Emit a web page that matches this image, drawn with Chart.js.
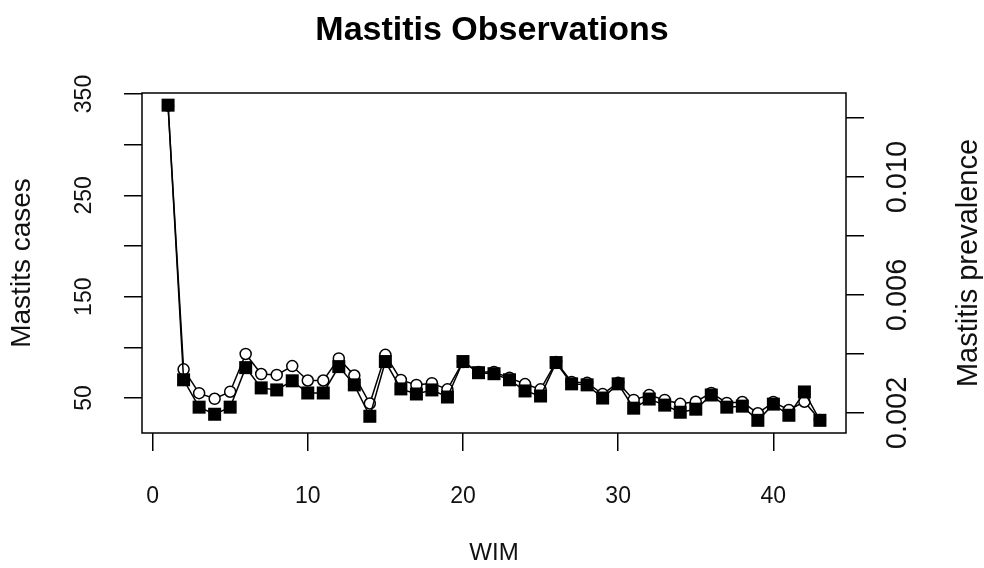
<!DOCTYPE html>
<html>
<head>
<meta charset="utf-8">
<script src="https://cdn.jsdelivr.net/npm/chart.js@4/dist/chart.umd.min.js"></script>
<style>
  body { margin: 0; background: #fff; }
  #wrap { width: 984px; height: 568px; }
</style>
</head>
<body>
<div id="wrap"><canvas id="chart"></canvas></div>
<script>
// week in milk
const wim = [1, 2, 3, 4, 5, 6, 7, 8, 9, 10, 11, 12, 13, 14, 15, 16, 17, 18, 19, 20, 21,
  22, 23, 24, 25, 26, 27, 28, 29, 30, 31, 32, 33, 34, 35, 36, 37, 38, 39, 40, 41, 42, 43];

// mastitis cases (left axis, filled squares)
const cases = [339, 68, 41, 34, 41, 80, 60, 58, 67, 55, 55, 81, 63, 32, 86, 59, 54, 58, 51, 86, 75,
  74, 68, 57, 52, 85, 64, 63, 50, 64, 40, 49, 43, 36, 39, 53, 41, 42, 28, 44, 33, 56, 28];

// mastitis prevalence (right axis, open circles)
const prevalence = [0.01242, 0.00348, 0.00267, 0.00248, 0.00272, 0.00400, 0.00332, 0.00329, 0.00359,
  0.00310, 0.00310, 0.00385, 0.00327, 0.00232, 0.00397, 0.00312, 0.00295, 0.00301, 0.00280, 0.00373,
  0.00339, 0.00339, 0.00319, 0.00298, 0.00280, 0.00373, 0.00305, 0.00302, 0.00264, 0.00302, 0.00244,
  0.00261, 0.00244, 0.00231, 0.00238, 0.00268, 0.00234, 0.00237, 0.00199, 0.00237, 0.00210, 0.00238, 0.00176];

// axis ticks (R draws every tick but skips some labels)
const xTicks = [0, 10, 20, 30, 40];
const leftTicks = [50, 100, 150, 200, 250, 300, 350];
const leftLabels = [50, 150, 250, 350];
const rightTicks = [0.002, 0.004, 0.006, 0.008, 0.010, 0.012];
const rightLabels = [0.002, 0.006, 0.010];

const FONT = '"Liberation Sans", Arial, sans-serif';

const tickGrid = { drawOnChartArea: false, drawTicks: true, tickLength: 18, color: '#000', lineWidth: 1.5 };

// box, tick labels and axis titles, R style (labels parallel to the axis)
const axisText = {
  id: 'axisText',
  afterDraw(chart) {
    const { ctx, chartArea: a, scales } = chart;
    ctx.save();
    ctx.strokeStyle = '#000';
    ctx.lineWidth = 1.5;
    ctx.strokeRect(a.left, a.top, a.right - a.left, a.bottom - a.top);

    ctx.fillStyle = '#111';
    ctx.textAlign = 'center';
    ctx.textBaseline = 'middle';
    ctx.font = '23px ' + FONT;
    xTicks.forEach(v => ctx.fillText(String(v), scales.x.getPixelForValue(v), 497));
    ctx.font = '24px ' + FONT;
    ctx.fillText('WIM', (a.left + a.right) / 2, 553);

    const rot = (text, x, y) => {
      ctx.save();
      ctx.translate(x, y);
      ctx.rotate(-Math.PI / 2);
      ctx.fillText(text, 0, 0);
      ctx.restore();
    };
    ctx.font = '23px ' + FONT;
    leftLabels.forEach(v => rot(String(v), 85, scales.y.getPixelForValue(v)));
    ctx.font = '29px ' + FONT;
    rightLabels.forEach(v => rot(v.toFixed(3), 898, scales.y1.getPixelForValue(v)));
    ctx.font = '28px ' + FONT;
    rot('Mastits cases', 22, (a.top + a.bottom) / 2);
    ctx.font = '29px ' + FONT;
    rot('Mastitis prevalence', 969, (a.top + a.bottom) / 2);
    ctx.restore();
  }
};

new Chart(document.getElementById('chart'), {
  type: 'line',
  data: {
    datasets: [
      {
        label: 'Mastitis cases',
        data: wim.map((w, i) => ({ x: w, y: cases[i] })),
        yAxisID: 'y',
        borderColor: '#000',
        borderWidth: 1.5,
        pointStyle: 'rect',
        pointRadius: 9.2,
        pointBackgroundColor: '#000',
        pointBorderColor: '#000',
        pointBorderWidth: 0,
        tension: 0
      },
      {
        label: 'Mastitis prevalence',
        data: wim.map((w, i) => ({ x: w, y: prevalence[i] })),
        yAxisID: 'y1',
        borderColor: '#000',
        borderWidth: 1.5,
        pointStyle: 'circle',
        pointRadius: 5.5,
        pointBackgroundColor: '#fff',
        pointBorderColor: '#000',
        pointBorderWidth: 1.5,
        tension: 0
      }
    ]
  },
  options: {
    responsive: true,
    maintainAspectRatio: false,
    animation: false,
    layout: { padding: 0 },
    plugins: {
      legend: { display: false },
      tooltip: { enabled: false },
      title: {
        display: true,
        text: 'Mastitis Observations',
        color: '#000',
        font: { family: FONT, size: 34, weight: 'bold', lineHeight: 1.2 },
        padding: { top: 10.5, bottom: 41.7 }
      }
    },
    scales: {
      x: {
        type: 'linear',
        position: 'bottom',
        min: -0.68,
        max: 44.68,
        afterBuildTicks: s => { s.ticks = xTicks.map(v => ({ value: v })); },
        afterFit: s => { s.height = 135; },
        ticks: { display: false },
        grid: tickGrid,
        border: { display: false }
      },
      y: {
        type: 'linear',
        position: 'left',
        min: 15.5,
        max: 351,
        afterBuildTicks: s => { s.ticks = leftTicks.map(v => ({ value: v })); },
        afterFit: s => { s.width = 142; },
        ticks: { display: false },
        grid: tickGrid,
        border: { display: false }
      },
      y1: {
        type: 'linear',
        position: 'right',
        min: 0.00132,
        max: 0.01285,
        afterBuildTicks: s => { s.ticks = rightTicks.map(v => ({ value: v })); },
        afterFit: s => { s.width = 138; },
        ticks: { display: false },
        grid: tickGrid,
        border: { display: false }
      }
    }
  },
  plugins: [axisText]
});
</script>
</body>
</html>
